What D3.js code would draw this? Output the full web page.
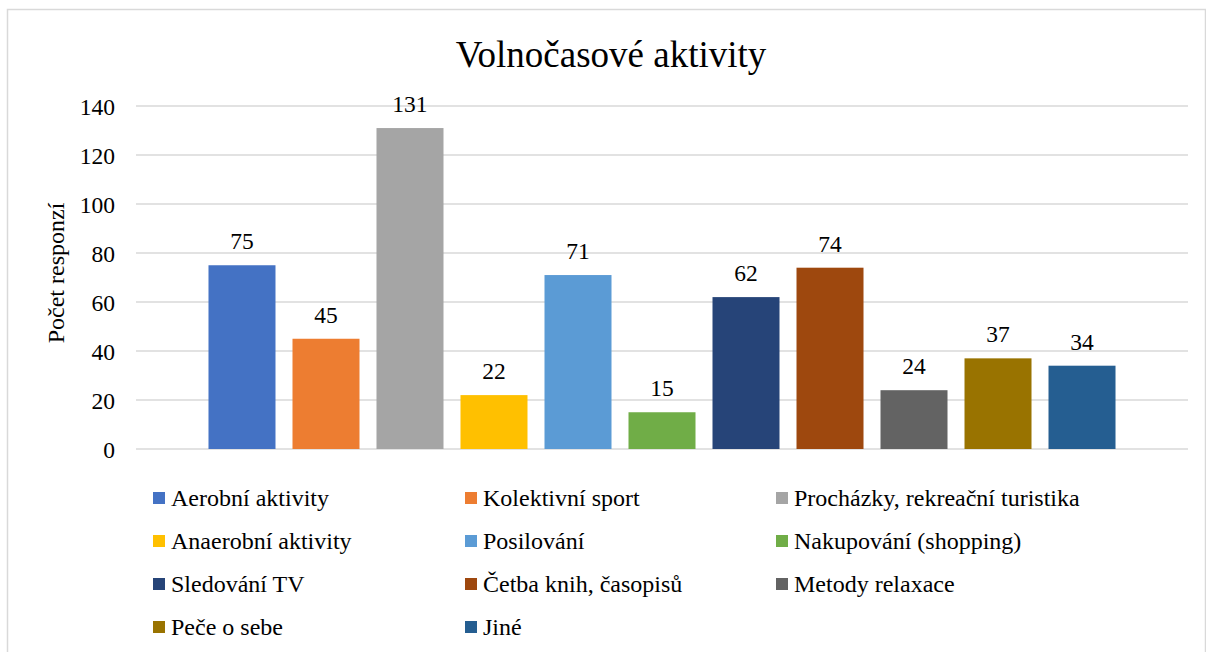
<!DOCTYPE html>
<html>
<head>
<meta charset="utf-8">
<script src="https://cdn.jsdelivr.net/npm/d3@7/dist/d3.min.js"></script>
<style>
  html, body { margin: 0; padding: 0; background: #fff; }
  svg { display: block; }
  svg text { font-family: "Liberation Serif", "Times New Roman", serif; fill: #000; }
</style>
</head>
<body>
<svg id="chart" width="1206" height="652"></svg>
<script>
const categories = ["Aerobní aktivity", "Kolektivní sport", "Procházky, rekreační turistika",
  "Anaerobní aktivity", "Posilování", "Nakupování (shopping)",
  "Sledování TV", "Četba knih, časopisů", "Metody relaxace",
  "Peče o sebe", "Jiné"];
const values = [75, 45, 131, 22, 71, 15, 62, 74, 24, 37, 34];
const colors = ["#4472C4", "#ED7D31", "#A5A5A5", "#FFC000", "#5B9BD5", "#70AD47",
  "#264478", "#9E480E", "#636363", "#997300", "#255E91"];
const yTicks = [0, 20, 40, 60, 80, 100, 120, 140];
const title = "Volnočasové aktivity";
const yTitle = "Počet responzí";

const svg = d3.select("#chart");
const plot = { left: 136, right: 1188, top: 106, bottom: 449 };

svg.append("rect").attr("x", 7.5).attr("y", 9.5).attr("width", 1198).attr("height", 660)
  .attr("fill", "#fff").attr("stroke", "#D9D9D9").attr("stroke-width", 1.5);

const y = d3.scaleLinear().domain([0, 140]).range([plot.bottom, plot.top]);
const x = d3.scaleBand().domain(categories).range([plot.left, plot.right])
  .paddingInner(0.2024).paddingOuter(0.863);

// gridlines
svg.append("g").selectAll("line").data(yTicks).join("line")
  .attr("x1", plot.left).attr("x2", plot.right)
  .attr("y1", d => y(d)).attr("y2", d => y(d))
  .attr("stroke", "#D9D9D9").attr("stroke-width", 1.5);

// y axis tick labels
const yAxis = d3.axisLeft(y).tickValues(yTicks).tickSize(0).tickPadding(0);
const ya = svg.append("g").attr("transform", `translate(${plot.left - 21},0)`).call(yAxis);
ya.attr("font-family", null).attr("font-size", null);
ya.select(".domain").remove();
ya.selectAll("text").style("font-size", "23.5px").attr("dy", "0.34em");

// bars
svg.append("g").selectAll("rect").data(values).join("rect")
  .attr("x", (d, i) => x(categories[i]))
  .attr("width", x.bandwidth())
  .attr("y", d => y(d))
  .attr("height", d => y(0) - y(d))
  .attr("fill", (d, i) => colors[i]);

// value labels
svg.append("g").selectAll("text").data(values).join("text")
  .attr("x", (d, i) => x(categories[i]) + x.bandwidth() / 2)
  .attr("y", d => y(d) - 16)
  .attr("text-anchor", "middle")
  .style("font-size", "23.5px")
  .text(d => d);

// title
svg.append("text").attr("x", 611).attr("y", 67).attr("text-anchor", "middle")
  .style("font-size", "37px").text(title);

// y title
svg.append("text").attr("transform", "translate(64,273) rotate(-90)")
  .attr("text-anchor", "middle").style("font-size", "24px").text(yTitle);

// legend
const legX = [153, 465, 776];
const legY = [498, 541, 584, 627];
const lg = svg.append("g").selectAll("g").data(categories).join("g")
  .attr("transform", (d, i) => `translate(${legX[i % 3]},${legY[Math.floor(i / 3)]})`);
lg.append("rect").attr("x", 0).attr("y", -6).attr("width", 12).attr("height", 12)
  .attr("fill", (d, i) => colors[i]);
lg.append("text").attr("x", 18).attr("y", 8).style("font-size", "24px")
  .text(d => d);
</script>
</body>
</html>
